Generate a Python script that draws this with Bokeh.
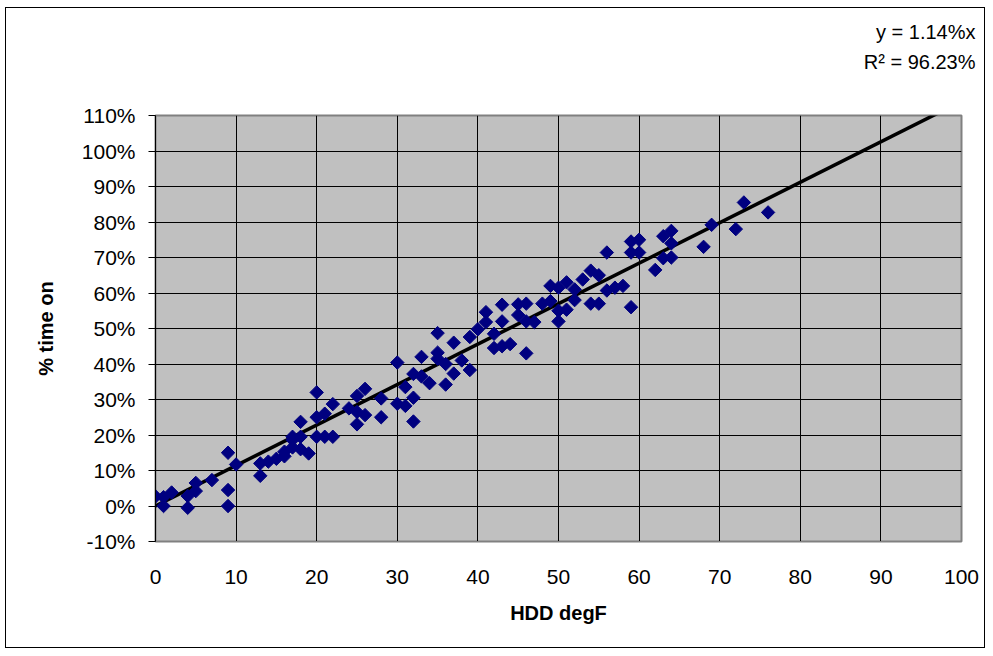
from bokeh.plotting import figure
from bokeh.models import Range1d, NumeralTickFormatter, FixedTicker, Title
from bokeh.embed import file_html
from bokeh.resources import INLINE
import math

# ---- data ----
hdd = [0, 1, 1, 2, 4, 4, 5, 5, 7, 9, 9, 9, 10, 13, 13, 14, 15, 16, 16, 17,
       17, 17, 18, 18, 18, 19, 20, 20, 20, 21, 21, 22, 22, 24, 25, 25, 25, 26, 26, 28,
       28, 30, 30, 31, 31, 32, 32, 32, 33, 33, 34, 35, 35, 35, 36, 36, 37, 37, 38, 39,
       39, 40, 41, 41, 42, 42, 43, 43, 43, 44, 45, 45, 46, 46, 46, 47, 48, 49, 49, 50,
       50, 50, 51, 51, 52, 52, 53, 54, 54, 55, 55, 56, 56, 57, 58, 59, 59, 59, 60, 60,
       62, 63, 63, 64, 64, 64, 68, 69, 72, 73, 76]
pct_time_on = [2.7, 0.0, 2.5, 3.8, -0.5, 2.8, 6.5, 4.2, 7.3, 15.0, 4.5, 0.0, 11.7, 8.5, 12.0, 12.5, 13.3, 14.0, 15.3, 16.5,
               18.6, 19.5, 16.0, 19.5, 23.7, 14.8, 32.0, 25.0, 19.5, 26.0, 19.5, 28.7, 19.5, 27.5, 31.0, 26.5, 23.0, 33.0, 25.6, 30.3,
               25.0, 40.4, 28.8, 33.5, 28.2, 30.5, 23.8, 37.2, 42.0, 36.5, 34.6, 48.7, 43.2, 41.5, 34.2, 40.0, 46.0, 37.3, 41.0, 47.6,
               38.3, 49.8, 54.6, 51.8, 44.5, 48.5, 45.0, 56.7, 52.0, 45.6, 56.8, 53.8, 57.0, 52.0, 43.0, 51.8, 57.0, 57.7, 62.0, 61.5,
               55.0, 52.0, 63.0, 55.3, 61.0, 58.0, 63.8, 66.3, 57.0, 65.0, 57.0, 60.7, 71.4, 61.5, 62.0, 56.0, 74.5, 71.4, 75.0, 71.4,
               66.5, 76.0, 69.8, 77.5, 74.0, 70.0, 73.0, 79.2, 78.0, 85.5, 82.7]
slope_pct = 1.14      # % per HDD
r_squared_pct = 96.23
x_ticks = list(range(0, 101, 10))
y_ticks_pct = list(range(-10, 111, 10))

y_frac = [v / 100.0 for v in pct_time_on]

FONT = "Liberation Sans"

p = figure(width=980, height=641,
           x_range=Range1d(0, 100), y_range=Range1d(-0.10, 1.10),
           output_backend="svg", toolbar_location=None,
           min_border_left=149, min_border_right=25,
           min_border_top=107, min_border_bottom=108)

p.background_fill_color = "#C0C0C0"
p.border_fill_color = "white"
p.outline_line_color = "#808080"
p.outline_line_width = 2

# grids
p.xgrid.ticker = FixedTicker(ticks=x_ticks)
p.ygrid.ticker = FixedTicker(ticks=[t / 100.0 for t in y_ticks_pct])
p.xgrid.grid_line_color = "black"
p.ygrid.grid_line_color = "black"
p.xgrid.grid_line_width = 1
p.ygrid.grid_line_width = 1

# axes
p.xaxis.ticker = FixedTicker(ticks=x_ticks)
p.yaxis.ticker = FixedTicker(ticks=[t / 100.0 for t in y_ticks_pct])
p.yaxis.formatter = NumeralTickFormatter(format="0%")
for ax in (p.xaxis[0], p.yaxis[0]):
    ax.major_label_text_font = FONT
    ax.major_label_text_font_size = "21px"
    ax.major_label_text_color = "black"
    ax.axis_label_text_font = FONT
    ax.axis_label_text_font_size = "20px"
    ax.axis_label_text_font_style = "bold"
    ax.axis_label_text_color = "black"
    ax.minor_tick_line_color = None
    ax.axis_line_color = "black"
    ax.major_tick_line_color = "black"

p.xaxis.axis_label = "HDD degF"
p.xaxis.major_tick_out = 0
p.xaxis.major_tick_in = 0
p.xaxis.major_label_standoff = 28
p.xaxis.axis_label_standoff = 15
p.xaxis.axis_line_color = "#808080"

p.yaxis.axis_label = "% time on"
p.yaxis.major_tick_out = 7
p.yaxis.major_tick_in = 0
p.yaxis.major_label_standoff = 13
p.yaxis.axis_label_standoff = 22

# trendline through origin
x_fit = [x_ticks[0], x_ticks[-1]]
y_fit = [slope_pct * x / 100.0 for x in x_fit]
p.line(x_fit, y_fit, line_color="black", line_width=3.5)

# scatter points (diamonds)
p.scatter(hdd, y_frac, marker="square", angle=math.pi / 4, size=9.5,
          fill_color="#000080", line_color="#000080")

# equation text, top right (titles stack outward from the plot area)
common = dict(align="right", offset=-14, text_font=FONT, text_font_size="20px",
              text_font_style="normal", text_color="black", vertical_align="bottom")
spacer = Title(text=" ", standoff=19, **common)
r2 = Title(text=f"R\u00b2 = {r_squared_pct:.2f}%", standoff=0, **common)
eq = Title(text=f"y = {slope_pct:.2f}%x", standoff=12, **common)
p.add_layout(spacer, "above")
p.add_layout(r2, "above")
p.add_layout(eq, "above")

p.styles = {"border": "1px solid black", "margin-left": "5px", "margin-top": "7px"}

open("out.html", "w").write(file_html(p, INLINE))
